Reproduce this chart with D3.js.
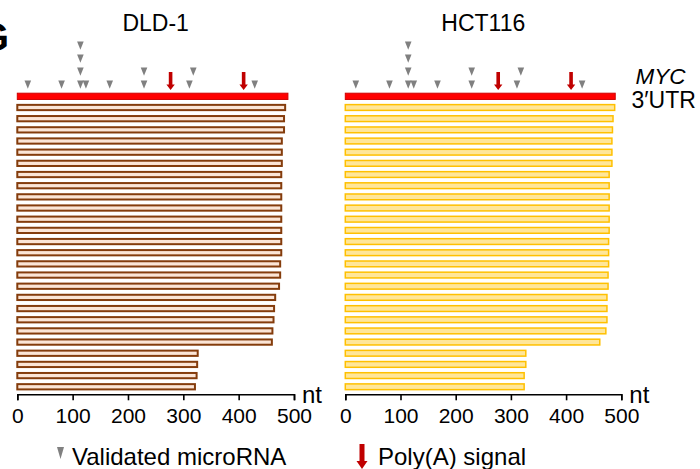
<!DOCTYPE html>
<html>
<head>
<meta charset="utf-8">
<script src="https://cdn.jsdelivr.net/npm/d3@7"></script>
<style>
  html, body { margin: 0; padding: 0; background: #fff; }
  svg { display: block; font-family: "Liberation Sans", Arial, sans-serif; }
</style>
</head>
<body>
<svg id="chart" width="700" height="469"></svg>
<script>
// MYC 3'UTR isoforms mapped in two colorectal cancer cell lines
const cellLines = ["DLD-1", "HCT116"];
const utrLength = 489;                 // full-length annotated MYC 3'UTR (nt)
const dld1Lengths = [484, 482, 482, 478, 478, 478, 477, 477, 477, 477, 477, 477, 477,
                     477, 475, 475, 473, 466, 464, 463, 461, 460, 326, 325, 324, 321];
const hct116Lengths = [488, 485, 484, 483, 483, 483, 478, 478, 478, 478, 478, 478, 477,
                       477, 477, 476, 476, 474, 474, 474, 472, 461, 327, 327, 324, 324];
const mirnaSites = [19, 80, 114, 114, 114, 114, 124, 167, 229, 229, 311, 318, 429];
const mirnaTiers = [0, 0, 0, 1, 2, 3, 0, 0, 0, 1, 0, 1, 0];
const polyASites = [277, 409];
const axisTicks = [0, 100, 200, 300, 400, 500];

const svg = d3.select("#chart");

const panels = [
  { name: cellLines[0], lengths: dld1Lengths, range: [17.3, 294],
    fill: "#FBE5D6", stroke: "#843C0C", sw: 2 },
  { name: cellLines[1], lengths: hct116Lengths, range: [345.3, 621.3],
    fill: "#FFE699", stroke: "#FFC000", sw: 1.5 }
];

const rows = d3.scaleBand()
  .domain(d3.range(dld1Lengths.length + 1))
  .range([92.7, 390.4])
  .paddingInner(0.35)
  .paddingOuter(0);
const axisY = 394.3;

const grey = "#808080";
const darkRed = "#C00000";

function trianglePath(cx, tipY, w, h) {
  return `M${cx - w / 2},${tipY - h}L${cx + w / 2},${tipY - h}L${cx},${tipY}Z`;
}
function arrowPath(cx, top, bottom, shaftW, headW, headH) {
  const hs = shaftW / 2, hh = headW / 2, hy = bottom - headH;
  return `M${cx - hs},${top}L${cx + hs},${top}L${cx + hs},${hy}L${cx + hh},${hy}` +
         `L${cx},${bottom}L${cx - hh},${hy}L${cx - hs},${hy}Z`;
}

panels.forEach(p => {
  const x = d3.scaleLinear().domain([0, 500]).range(p.range);
  const g = svg.append("g");

  // panel title
  g.append("text")
    .attr("x", (p.range[0] + p.range[1]) / 2)
    .attr("y", 30.5)
    .attr("text-anchor", "middle")
    .attr("font-size", 23)
    .text(p.name);

  // validated microRNA sites
  g.selectAll("path.mirna")
    .data(mirnaSites.map((s, i) => ({ pos: s, tier: mirnaTiers[i] })))
    .join("path")
    .attr("class", "mirna")
    .attr("d", d => trianglePath(x(d.pos), 88.8 - d.tier * 13, 6.6, 8.4))
    .attr("fill", grey);

  // poly(A) signals
  g.selectAll("path.polya")
    .data(polyASites)
    .join("path")
    .attr("class", "polya")
    .attr("d", d => arrowPath(x(d), 72, 90, 3.6, 8.4, 5.5))
    .attr("fill", darkRed);

  // annotated 3'UTR
  g.append("rect")
    .attr("x", x(0))
    .attr("y", rows(0) + 0.5)
    .attr("width", x(utrLength) - x(0))
    .attr("height", rows.bandwidth() - 1)
    .attr("fill", "#FF0000")
    .attr("stroke", "#D00000")
    .attr("stroke-width", 1);

  // detected isoforms
  g.selectAll("rect.iso")
    .data(p.lengths)
    .join("rect")
    .attr("class", "iso")
    .attr("x", x(0))
    .attr("y", (d, i) => rows(i + 1) + p.sw / 2)
    .attr("width", d => x(d) - x(0))
    .attr("height", rows.bandwidth() - p.sw)
    .attr("fill", p.fill)
    .attr("stroke", p.stroke)
    .attr("stroke-width", p.sw);

  // length axis
  const ax = g.append("g")
    .attr("transform", `translate(0,${axisY})`)
    .call(d3.axisBottom(x).tickValues(axisTicks).tickFormat(d3.format("d"))
      .tickSize(6).tickSizeOuter(6).tickPadding(8));
  ax.select(".domain").attr("stroke", "#000").attr("stroke-width", 1.6);
  ax.selectAll(".tick line").attr("stroke", "#000").attr("stroke-width", 1.6);
  ax.selectAll(".tick text")
    .attr("font-size", 21)
    .attr("font-family", "\"Liberation Sans\", Arial, sans-serif")
    .attr("fill", "#000");

  g.append("text")
    .attr("x", p.range[1] + 8)
    .attr("y", 403)
    .attr("font-size", 24)
    .text("nt");
});

// panel letter
svg.append("text")
  .attr("x", -22)
  .attr("y", 51)
  .attr("font-size", 40)
  .attr("font-weight", "bold")
  .text("G");

// transcript label
svg.append("text")
  .attr("x", 635.5)
  .attr("y", 84)
  .attr("font-size", 22.5)
  .attr("font-style", "italic")
  .text("MYC");
svg.append("text")
  .attr("x", 631.5)
  .attr("y", 108)
  .attr("font-size", 23)
  .text("3\u2032UTR");

// legend
const legend = svg.append("g");
legend.append("path")
  .attr("d", trianglePath(60.5, 459, 7, 12))
  .attr("fill", grey);
legend.append("text")
  .attr("x", 72)
  .attr("y", 465)
  .attr("font-size", 24)
  .text("Validated microRNA");
legend.append("path")
  .attr("d", arrowPath(362, 444, 469, 5, 11, 8))
  .attr("fill", darkRed);
legend.append("text")
  .attr("x", 378)
  .attr("y", 465)
  .attr("font-size", 24)
  .text("Poly(A) signal");
</script>
</body>
</html>
